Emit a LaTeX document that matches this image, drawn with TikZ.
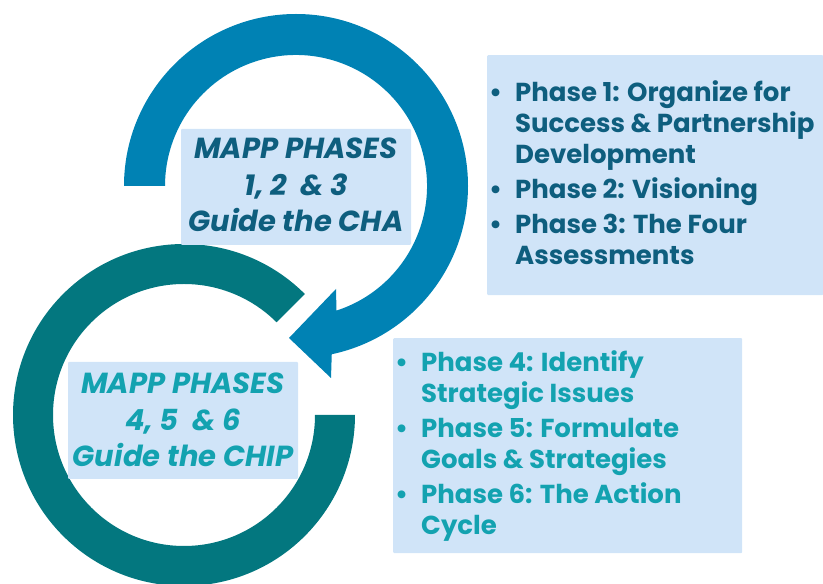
\documentclass[tikz,border=0pt]{standalone}
\usepackage{fontspec}
\setmainfont{Poppins}
\usetikzlibrary{calc}
\definecolor{ringblue}{HTML}{0082B4}
\definecolor{ringteal}{HTML}{03777F}
\definecolor{boxfill}{HTML}{D0E4F8}
\definecolor{chatext}{HTML}{0E5E7E}
\definecolor{chiptext}{HTML}{13A2B0}
\tikzset{
  phasebox/.style={fill=boxfill, rounded corners=1pt, inner sep=0pt},
  phaselabel/.style={align=center, inner sep=0pt, font=\fontsize{29}{36.5}\selectfont\bfseries\itshape},
  phaselist/.style={align=left, inner sep=0pt, font=\fontsize{26}{31}\selectfont\bfseries}
}
\newcommand\pbul{\llap{\textbullet\hspace{13pt}}}
\begin{document}
\begin{tikzpicture}[x=1pt,y=1pt]
  \useasboundingbox (0,0) rectangle (823,584);
  \coordinate (chacenter) at (296,398);
  \coordinate (chipcenter) at (184,169);
  % lower ring, CHIP
  \fill[ringteal] ($(chipcenter)+(45:171)$) arc[start angle=45, end angle=360, radius=171]
    -- ($(chipcenter)+(0:131)$) arc[start angle=360, end angle=45, radius=131] -- cycle;
  % upper ring with arrow head, CHA
  \fill[ringblue] ($(chacenter)+(180:172)$) arc[start angle=180, end angle=-78, radius=172]
    -- (331,206) -- (289,246) -- (336,295)
    -- ($(chacenter)+(-72:131)$) arc[start angle=-72, end angle=180, radius=131] -- cycle;
  % labels inside the rings (base = last line)
  \node[phasebox, minimum width=230, minimum height=116] (chabox) at (296,397) {};
  \node[phaselabel, text=chatext, anchor=base] (chalabel) at (296,352)
    {MAPP PHASES\\1, 2~~\& 3\\Guide the CHA};
  \node[phasebox, minimum width=230, minimum height=117] (chipbox) at (183,163.5) {};
  \node[phaselabel, text=chiptext, anchor=base] (chiplabel) at (183,117)
    {MAPP PHASES\\4, 5~~\& 6\\Guide the CHIP};
  % phase lists
  \node[phasebox, minimum width=336, minimum height=240, anchor=north west] (chalistbox) at (487,529) {};
  \node[phaselist, text=chatext, anchor=base west] (chalist) at (515,319)
    {\pbul Phase 1: Organize for\\Success \& Partnership\\Development\\[4pt]
     \pbul Phase 2: Visioning\\[4pt]
     \pbul Phase 3: The Four\\Assessments};
  \node[phasebox, minimum width=349, minimum height=215, anchor=north west] (chiplistbox) at (393,246) {};
  \node[phaselist, text=chiptext, anchor=base west] (chiplist) at (421,49)
    {\pbul Phase 4: Identify\\Strategic Issues\\[4pt]
     \pbul Phase 5: Formulate\\Goals \& Strategies\\[4pt]
     \pbul Phase 6: The Action\\Cycle};
\end{tikzpicture}
\end{document}
